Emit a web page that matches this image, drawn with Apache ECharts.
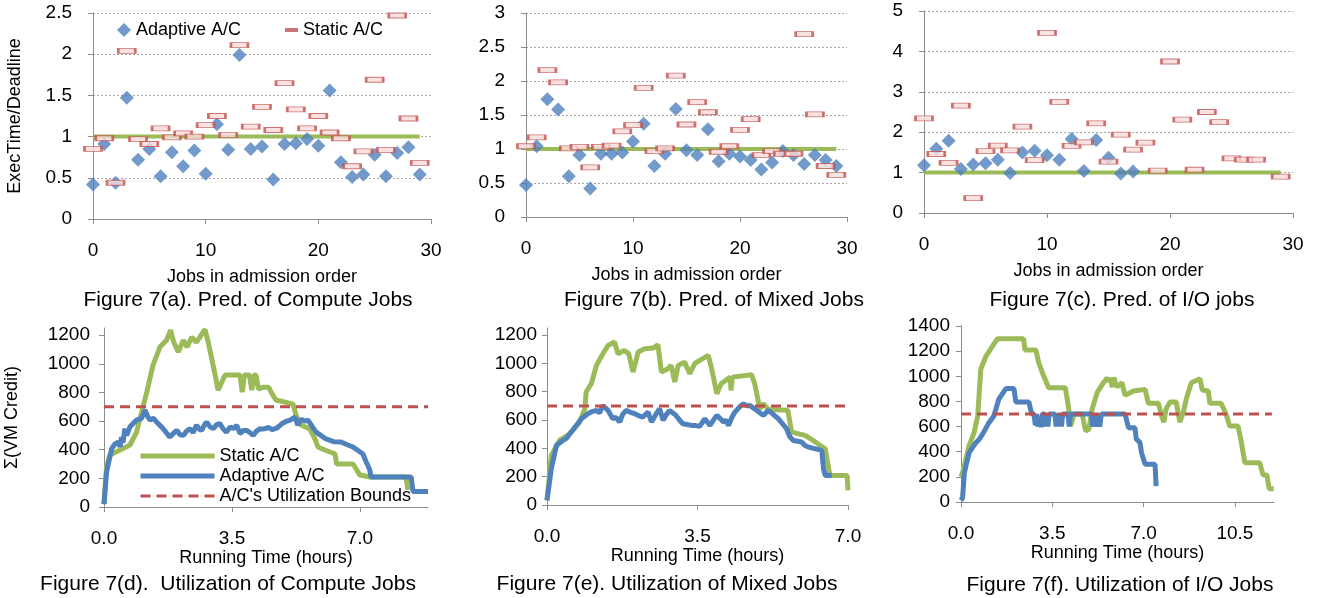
<!DOCTYPE html>
<html>
<head>
<meta charset="utf-8">
<script src="https://cdn.jsdelivr.net/npm/echarts@6/dist/echarts.min.js"></script>
<style>
html,body{margin:0;padding:0;background:#fff;}
#chart{width:1320px;height:598px;}
</style>
</head>
<body>
<div id="chart"></div>
<script>
// ---------- data ----------
const jobs = [0,1,2,3,4,5,6,7,8,9,10,11,12,13,14,15,16,17,18,19,20,21,22,23,24,25,26,27,28,29];

const aAdaptive = [0.42,0.91,0.44,1.47,0.72,0.85,0.52,0.81,0.64,0.83,0.55,1.15,0.84,1.99,0.85,0.88,0.48,0.91,0.92,0.97,0.89,1.56,0.69,0.51,0.54,0.78,0.52,0.80,0.87,0.54];
const aStatic   = [0.85,0.98,0.44,2.04,0.97,0.91,1.10,0.99,1.04,1.00,1.14,1.25,1.02,2.11,1.12,1.36,1.08,1.65,1.33,1.10,1.25,1.05,0.98,0.64,0.82,1.69,0.84,2.47,1.22,0.68];
const bAdaptive = [0.47,1.04,1.73,1.58,0.60,0.91,0.42,0.93,0.93,0.95,1.11,1.37,0.75,0.93,1.59,0.98,0.91,1.29,0.82,0.93,0.89,0.84,0.70,0.80,0.97,0.91,0.78,0.91,0.84,0.75];
const bStatic   = [1.04,1.17,2.16,1.98,1.01,1.03,0.73,1.03,1.05,1.26,1.35,1.90,0.97,1.01,2.08,1.36,1.69,1.54,0.96,1.04,1.28,1.44,0.91,0.97,0.93,0.93,2.69,1.51,0.75,0.62];
const cAdaptive = [1.18,1.59,1.79,1.09,1.20,1.23,1.32,0.99,1.50,1.54,1.43,1.32,1.83,1.04,1.81,1.37,0.98,1.03];
const cStatic   = [2.34,1.46,1.24,2.66,0.37,1.53,1.67,1.55,2.14,1.31,4.46,2.75,1.66,1.75,2.22,1.27,1.94,1.57,1.74,1.05,3.75,2.31,1.07,2.50,2.25,1.35,1.32,1.32,null,0.90];
const deadlineRef = [[0,1],[29,1]];

const dStatic = [[0,20],[0.07,280],[0.16,363],[0.44,398],[0.71,433],[0.89,523],[1.03,663],[1.17,802],[1.34,991],[1.53,1117],[1.71,1165],[1.82,1235],[1.9,1156],[2.03,1082],[2.17,1165],[2.27,1117],[2.4,1186],[2.53,1151],[2.76,1240],[2.85,1151],[3.04,921],[3.12,816],[3.31,921],[3.72,921],[3.78,802],[3.84,921],[3.98,921],[4.04,816],[4.1,921],[4.16,921],[4.22,823],[4.35,837],[4.5,837],[4.6,788],[4.7,747],[5.17,718],[5.25,642],[5.39,572],[5.63,544],[5.77,475],[5.85,419],[6.04,398],[6.32,370],[6.36,300],[6.81,300],[7.0,223],[7.27,209],[8.26,209],[8.31,119]];
const dAdaptive = [[0,20],[0.07,244],[0.21,407],[0.3,440],[0.39,453],[0.44,420],[0.48,488],[0.52,450],[0.57,547],[0.62,500],[0.66,488],[0.71,560],[0.76,572],[0.89,607],[1.03,619],[1.12,677],[1.2,630],[1.26,607],[1.35,620],[1.44,593],[1.53,570],[1.62,547],[1.7,520],[1.8,488],[1.9,515],[1.99,535],[2.08,505],[2.17,500],[2.26,530],[2.35,547],[2.44,520],[2.53,572],[2.6,545],[2.67,535],[2.74,570],[2.81,593],[2.9,560],[2.99,547],[3.08,575],[3.17,582],[3.26,545],[3.35,523],[3.45,560],[3.54,547],[3.63,570],[3.72,512],[3.81,535],[3.9,535],[3.99,520],[4.08,500],[4.17,530],[4.27,547],[4.35,544],[4.5,555],[4.6,540],[4.72,550],[4.86,581],[5.0,600],[5.09,607],[5.22,628],[5.3,572],[5.39,614],[5.49,600],[5.58,607],[5.7,560],[5.8,523],[6.07,475],[6.3,455],[6.48,454],[6.65,435],[6.81,419],[7.08,370],[7.17,314],[7.27,258],[7.3,209],[8.4,209],[8.45,108],[8.86,108]];

const eStatic = [[0,33],[0.1,350],[0.29,456],[0.53,503],[0.76,586],[0.88,680],[0.91,798],[1.03,856],[1.15,986],[1.3,1068],[1.42,1127],[1.57,1151],[1.65,1068],[1.8,1092],[1.9,1068],[2.0,939],[2.12,1080],[2.27,1104],[2.47,1108],[2.58,1131],[2.66,939],[2.81,962],[2.89,986],[2.97,868],[3.05,986],[3.2,1009],[3.32,927],[3.44,1000],[3.6,1030],[3.75,1057],[3.83,962],[3.95,786],[4.05,856],[4.2,890],[4.26,903],[4.28,809],[4.31,903],[4.76,920],[4.83,856],[4.95,680],[5.03,715],[5.15,675],[5.6,669],[5.69,515],[6.0,492],[6.19,456],[6.47,397],[6.58,209],[6.98,209],[7.0,103]];
const eAdaptive = [[0,33],[0.1,256],[0.22,421],[0.3,440],[0.37,456],[0.45,470],[0.53,503],[0.6,530],[0.68,562],[0.8,609],[0.95,645],[1.05,660],[1.15,668],[1.22,650],[1.3,703],[1.42,668],[1.53,609],[1.6,620],[1.69,586],[1.76,640],[1.84,668],[1.94,655],[2.04,645],[2.14,630],[2.23,621],[2.35,656],[2.43,586],[2.54,645],[2.62,680],[2.7,598],[2.78,640],[2.85,668],[2.93,650],[3.0,633],[3.08,600],[3.16,574],[3.26,568],[3.36,562],[3.44,562],[3.55,555],[3.67,609],[3.79,562],[3.87,600],[3.95,633],[4.03,610],[4.1,586],[4.16,600],[4.22,562],[4.3,620],[4.37,656],[4.47,690],[4.57,715],[4.65,700],[4.72,703],[4.88,668],[5.03,633],[5.15,668],[5.26,640],[5.38,609],[5.57,539],[5.65,480],[5.73,456],[5.92,445],[6.0,420],[6.08,409],[6.2,400],[6.39,386],[6.43,256],[6.47,209],[6.62,209]];

const fStatic = [[0,200],[0.06,233],[0.31,446],[0.5,551],[0.64,684],[0.76,1058],[0.96,1161],[1.21,1241],[1.4,1299],[2.4,1299],[2.45,1210],[2.87,1210],[2.98,1108],[3.17,1002],[3.36,909],[4.0,909],[4.13,740],[4.2,605],[4.33,700],[4.65,700],[4.72,620],[4.78,565],[4.9,578],[5.03,740],[5.22,870],[5.46,949],[5.6,985],[5.69,960],[5.73,989],[5.8,913],[5.86,990],[5.95,923],[6.04,923],[6.17,950],[6.29,848],[6.61,883],[7.06,896],[7.18,785],[7.57,785],[7.69,684],[7.78,636],[7.86,740],[8.01,796],[8.25,796],[8.39,636],[8.52,711],[8.65,830],[8.83,949],[9.16,981],[9.25,891],[9.48,883],[9.54,785],[9.97,785],[10.16,700],[10.3,605],[10.62,605],[10.74,485],[10.88,313],[11.45,313],[11.58,215],[11.73,215],[11.81,106],[11.99,106]];
const fAdaptive = [[0,13],[0.06,34],[0.13,233],[0.31,392],[0.57,472],[0.7,500],[0.83,540],[1.07,631],[1.26,684],[1.45,819],[1.72,902],[2.03,902],[2.1,796],[2.6,796],[2.71,700],[2.8,700],[2.85,610],[2.9,700],[2.95,600],[3.0,680],[3.07,595],[3.12,700],[3.2,700],[3.24,600],[3.28,690],[3.33,600],[3.38,700],[3.6,700],[3.65,600],[3.7,700],[3.75,610],[3.8,700],[3.85,600],[3.9,700],[4.1,700],[4.15,600],[4.2,700],[5.0,700],[5.05,600],[5.12,700],[5.18,600],[5.25,690],[5.32,600],[5.38,700],[6.29,700],[6.42,591],[6.67,591],[6.72,501],[6.86,475],[6.92,392],[7.06,300],[7.44,300],[7.48,127]];

const boundValue = 700;
const dBound = [[0,boundValue],[8.86,boundValue]];
const eBound = [[0,boundValue],[7.0,boundValue]];
const fBound = [[0,boundValue],[11.92,boundValue]];

const yTicksCredit = [0,200,400,600,800,1000,1200];
const xTicksHoursD = [0,3.5,7];
const xTicksHoursF = [0,3.5,7,10.5];

const captions = [
  'Figure 7(a). Pred. of Compute Jobs',
  'Figure 7(b). Pred. of Mixed Jobs',
  'Figure 7(c). Pred. of I/O jobs',
  'Figure 7(d).  Utilization of Compute Jobs',
  'Figure 7(e). Utilization of Mixed Jobs',
  'Figure 7(f). Utilization of I/O Jobs'
];
const legendNames = {utilStatic:'Static A/C', utilAdaptive:'Adaptive A/C', utilBound:"A/C's Utilization Bounds"};

// ---------- style ----------
const FONT = 'Liberation Sans, Arial, sans-serif';
const BLUE = '#4f81bd', GREEN = '#9bbb59', RED = '#c0504d', AXIS = '#8c8c8c';
const TICK_FS = 19, NAME_FS = 18;

function toPts(arr){ const out=[]; arr.forEach((v,i)=>{ if(v!==null) out.push([jobs[i], v]); }); return out; }

function topX(idx){
  return {gridIndex:idx, type:'value', min:0, max:30, interval:10,
    axisLine:{show:true, lineStyle:{color:AXIS, width:1}},
    axisTick:{show:true, length:5, lineStyle:{color:AXIS}},
    axisLabel:{margin:22, fontSize:TICK_FS, color:'#000', fontFamily:FONT},
    splitLine:{show:false},
    name:'Jobs in admission order', nameLocation:'middle', nameGap:49,
    nameTextStyle:{fontSize:NAME_FS, color:'#000', fontFamily:FONT}};
}
function topY(idx, max, interval, extra){
  return Object.assign({gridIndex:idx, type:'value', min:0, max:max, interval:interval,
    axisLine:{show:true, lineStyle:{color:AXIS, width:1}},
    axisTick:{show:true, length:5, lineStyle:{color:AXIS}},
    axisLabel:{margin:21, fontSize:TICK_FS, color:'#000', fontFamily:FONT},
    splitLine:{show:true, lineStyle:{color:'#a6a6a6', type:[2,2], width:1}}}, extra||{});
}
function botX(idx, max, ticks){
  return {gridIndex:idx, type:'value', min:0, max:max, interval:3.5,
    axisLine:{show:true, lineStyle:{color:AXIS, width:1}},
    axisTick:{show:true, length:5, lineStyle:{color:AXIS}, customValues:ticks},
    axisLabel:{margin:22, fontSize:TICK_FS, color:'#000', fontFamily:FONT, customValues:ticks,
      formatter:v=>Number(v).toFixed(1)},
    splitLine:{show:false},
    name:'Running Time (hours)', nameLocation:'middle', nameGap:41,
    nameTextStyle:{fontSize:NAME_FS, color:'#000', fontFamily:FONT}};
}
function botY(idx, max, margin, extra){
  const custom = max===1400 ? undefined : yTicksCredit;
  return Object.assign({gridIndex:idx, type:'value', min:0, max:max, interval:200,
    axisLine:{show:true, lineStyle:{color:AXIS, width:1}},
    axisTick:{show:true, length:5, lineStyle:{color:AXIS}, customValues:custom},
    axisLabel:{margin:margin, fontSize:TICK_FS, color:'#000', fontFamily:FONT, customValues:custom,
      formatter:v=>String(Math.round(v))},
    splitLine:{show:false}}, extra||{});
}

const series = [];
function addTop(idx, adaptive, stat){
  series.push({type:'line', name:'ref', xAxisIndex:idx, yAxisIndex:idx, data:deadlineRef, symbol:'none',
    lineStyle:{color:GREEN, width:4}, silent:true, z:1});
  series.push({type:'scatter', name:'Adaptive A/C', xAxisIndex:idx, yAxisIndex:idx, data:toPts(adaptive),
    symbol:'diamond', symbolSize:14, itemStyle:{color:BLUE}, z:2});
  series.push({type:'scatter', name:'Static A/C', xAxisIndex:idx, yAxisIndex:idx, data:toPts(stat),
    symbol:'rect', symbolSize:[17,5], itemStyle:{color:'#f7dcdb', borderColor:RED, borderWidth:1.5}, z:3});
}
function addBot(idx, st, ad, bd){
  series.push({type:'line', name:'utilStatic', xAxisIndex:idx, yAxisIndex:idx, data:st, symbol:'none',
    lineStyle:{color:GREEN, width:5}, itemStyle:{color:GREEN}, z:2});
  series.push({type:'line', name:'utilAdaptive', xAxisIndex:idx, yAxisIndex:idx, data:ad, symbol:'none',
    lineStyle:{color:BLUE, width:5}, itemStyle:{color:BLUE}, z:3});
  series.push({type:'line', name:'utilBound', xAxisIndex:idx, yAxisIndex:idx, data:bd, symbol:'none',
    lineStyle:{color:RED, width:3, type:[10,6]}, itemStyle:{color:RED}, z:4});
}
addTop(0, aAdaptive, aStatic);
addTop(1, bAdaptive, bStatic);
addTop(2, cAdaptive, cStatic);
addBot(3, dStatic, dAdaptive, dBound);
addBot(4, eStatic, eAdaptive, eBound);
addBot(5, fStatic, fAdaptive, fBound);

const captionPos = [[248,300],[714,300],[1122,300],[228,584],[667,584],[1120,585]];

const option = {
  animation:false,
  backgroundColor:'#fff',
  textStyle:{fontFamily:FONT, color:'#000'},
  grid:[
    {left:93, top:13, width:338, height:206},
    {left:526, top:13, width:321, height:204},
    {left:924, top:11, width:369, height:202},
    {left:104, top:328, width:324, height:179},
    {left:547, top:328, width:301, height:177},
    {left:961, top:326, width:313, height:176}
  ],
  xAxis:[topX(0), topX(1), topX(2), botX(3, 8.86, xTicksHoursD), botX(4, 7, xTicksHoursD), botX(5, 12, xTicksHoursF)],
  yAxis:[
    topY(0, 2.5, 0.5, {name:'ExecTime/Deadline', nameLocation:'middle', nameGap:69,
      nameTextStyle:{fontSize:NAME_FS, color:'#000', fontFamily:FONT}}),
    topY(1, 3, 0.5),
    topY(2, 5, 1),
    botY(3, 1250, 14, {name:'\u03A3(VM Credit)', nameLocation:'middle', nameGap:83,
      nameTextStyle:{fontSize:NAME_FS, color:'#000', fontFamily:FONT}}),
    botY(4, 1250, 10),
    botY(5, 1400, 11)
  ],
  legend:[
    {left:117, top:21, selectedMode:false, itemWidth:14, itemHeight:14, padding:0,
      textStyle:{fontSize:NAME_FS, color:'#000', fontFamily:FONT},
      data:['Adaptive A/C']},
    {left:285, top:21, selectedMode:false, itemWidth:13, itemHeight:4, padding:0,
      textStyle:{fontSize:NAME_FS, color:'#000', fontFamily:FONT},
      data:[{name:'Static A/C', icon:'rect', itemStyle:{color:RED, borderWidth:0}}]},
    {left:138, top:447, orient:'vertical', selectedMode:false, itemWidth:74, itemHeight:14, itemGap:2, padding:0,
      itemStyle:{color:'rgba(0,0,0,0)', borderWidth:0, opacity:0},
      lineStyle:{width:5},
      textStyle:{fontSize:NAME_FS, color:'#000', fontFamily:FONT},
      formatter:n=>legendNames[n],
      data:['utilStatic','utilAdaptive',{name:'utilBound', lineStyle:{width:3}}]}
  ],
  graphic: captions.map((t,i)=>({type:'text', x:captionPos[i][0], y:captionPos[i][1], silent:true,
    style:{text:t, fill:'#000', font:'21px '+FONT, textAlign:'center', textVerticalAlign:'middle'}})),
  series:series
};

const chart = echarts.init(document.getElementById('chart'), null, {renderer:'canvas'});
chart.setOption(option);
</script>
</body>
</html>
